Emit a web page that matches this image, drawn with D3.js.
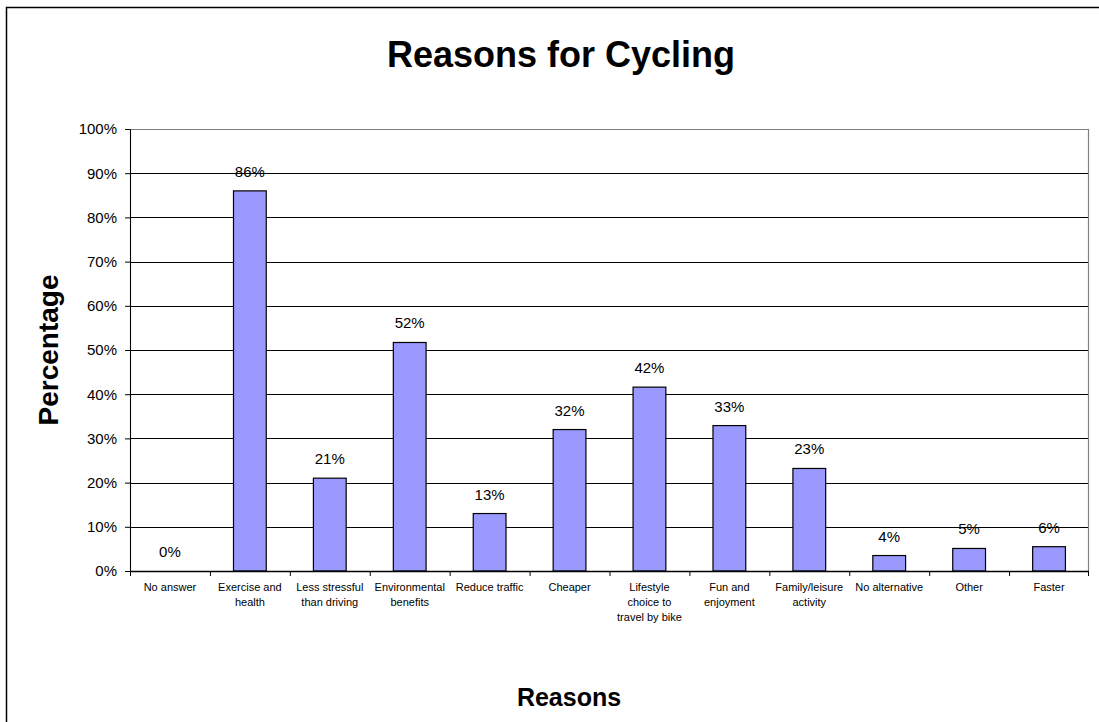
<!DOCTYPE html>
<html>
<head>
<meta charset="utf-8">
<script src="https://cdn.jsdelivr.net/npm/d3@7"></script>
<style>
  body { margin: 0; background: #fff; }
  svg { display: block; font-family: Arial, "Liberation Sans", sans-serif; }
</style>
</head>
<body>
<svg id="chart" width="1099" height="722"></svg>
<script>
// Chart data.
var categories = [
  "No answer", "Exercise and\nhealth", "Less stressful\nthan driving", "Environmental\nbenefits",
  "Reduce traffic", "Cheaper", "Lifestyle\nchoice to\ntravel by bike", "Fun and\nenjoyment",
  "Family/leisure\nactivity", "No alternative", "Other", "Faster"
];
var values = [0, 86, 21, 51.7, 13, 32, 41.6, 32.9, 23.2, 3.5, 5.1, 5.5];
var yTicks = [0, 10, 20, 30, 40, 50, 60, 70, 80, 90, 100];

var svg = d3.select("#chart");
var margin = { top: 129, left: 130, right: 10, bottom: 151 };
var width = 1089 - margin.left;
var height = 571 - margin.top;

// Outer chart frame (runs off the right and bottom of the window).
svg.append("rect")
  .attr("x", 6.5).attr("y", 7.5)
  .attr("width", 1200).attr("height", 800)
  .attr("fill", "none").attr("stroke", "#000").attr("stroke-width", 1.5);

var g = svg.append("g").attr("transform", "translate(" + margin.left + "," + margin.top + ")");

var x = d3.scaleBand().domain(d3.range(categories.length)).range([0, width]).paddingInner(0).paddingOuter(0);
var y = d3.scaleLinear().domain([0, 100]).range([height, 0]);

// Gridlines.
g.selectAll(".grid")
  .data(yTicks.filter(d => d > 0 && d < 100))
  .enter().append("line")
  .attr("x1", 0).attr("x2", width)
  .attr("y1", d => Math.round(y(d)) + 0.5).attr("y2", d => Math.round(y(d)) + 0.5)
  .attr("stroke", "#000").attr("stroke-width", 1);

// Plot area border (top and right in grey).
g.append("path")
  .attr("d", "M0.5," + (height) + "V0.5H" + (width - 0.5) + "V" + height)
  .attr("fill", "none").attr("stroke", "#808080").attr("stroke-width", 1.2);

// Bars.
var barW = x.bandwidth() * 0.41;
g.selectAll(".bar")
  .data(values)
  .enter().append("rect")
  .attr("class", "bar")
  .attr("x", (d, i) => x(i) + (x.bandwidth() - barW) / 2)
  .attr("y", d => y(d))
  .attr("width", barW)
  .attr("height", d => y(0) - y(d))
  .attr("fill", "#9999FF")
  .attr("stroke", "#000")
  .attr("stroke-width", 1.2);

// Value labels.
g.selectAll(".val")
  .data(values)
  .enter().append("text")
  .attr("x", (d, i) => x(i) + x.bandwidth() / 2)
  .attr("y", d => y(d) - 14)
  .attr("text-anchor", "middle")
  .style("font-size", "15px")
  .text(d => Math.round(d) + "%");

// Y axis.
var yAxis = g.append("g")
  .call(d3.axisLeft(y).tickValues(yTicks).tickSize(5).tickFormat(d => d + "%"));
yAxis.select(".domain").attr("stroke", "#000");
yAxis.selectAll(".tick line").attr("stroke", "#000");
yAxis.selectAll("text").style("font-size", "15px").attr("x", -13).attr("fill", "#000");

// X axis: ticks at category boundaries.
var xAxis = g.append("g").attr("transform", "translate(0," + height + ")");
xAxis.append("line")
  .attr("x1", 0).attr("x2", width).attr("y1", 0.5).attr("y2", 0.5)
  .attr("stroke", "#000").attr("stroke-width", 1.5);
xAxis.selectAll(".xt")
  .data(d3.range(categories.length + 1))
  .enter().append("line")
  .attr("x1", i => i < categories.length ? x(i) + 0.5 : width - 0.5)
  .attr("x2", i => i < categories.length ? x(i) + 0.5 : width - 0.5)
  .attr("y1", 0).attr("y2", 5)
  .attr("stroke", "#000");

xAxis.selectAll(".xl")
  .data(categories)
  .enter().append("text")
  .attr("text-anchor", "middle")
  .attr("transform", (d, i) => "translate(" + (x(i) + x.bandwidth() / 2) + ",20)")
  .style("font-size", "11px")
  .each(function (d) {
    var t = d3.select(this);
    d.split("\n").forEach(function (line, k) {
      t.append("tspan").attr("x", 0).attr("y", k * 15).text(line);
    });
  });

// Titles.
svg.append("text")
  .attr("x", 561).attr("y", 67)
  .attr("text-anchor", "middle")
  .style("font-size", "36px").style("font-weight", "bold")
  .text("Reasons for Cycling");

svg.append("text")
  .attr("transform", "translate(58,350) rotate(-90)")
  .attr("text-anchor", "middle")
  .style("font-size", "28px").style("font-weight", "bold")
  .text("Percentage");

svg.append("text")
  .attr("x", 569).attr("y", 706)
  .attr("text-anchor", "middle")
  .style("font-size", "25px").style("font-weight", "bold")
  .text("Reasons");
</script>
</body>
</html>
